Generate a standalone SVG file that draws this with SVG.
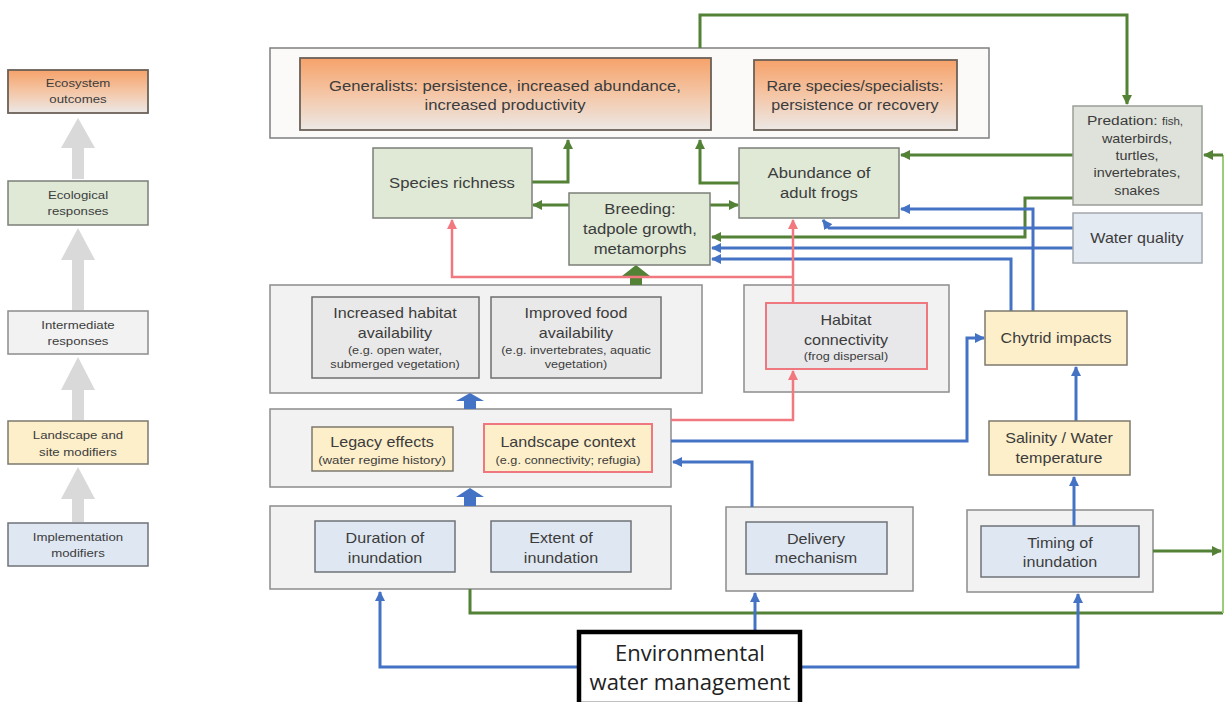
<svg xmlns="http://www.w3.org/2000/svg" width="1225" height="702" viewBox="0 0 1225 702">
  <defs>
    <linearGradient id="orangeFade" x1="0" y1="0" x2="0" y2="1">
      <stop offset="0" stop-color="#f6a26a"/>
      <stop offset="0.5" stop-color="#f4c6a6"/>
      <stop offset="1" stop-color="#ece8e6"/>
    </linearGradient>
    <marker id="arrGreen" viewBox="0 0 10 10" refX="9" refY="5" markerWidth="10" markerHeight="10" markerUnits="userSpaceOnUse" orient="auto">
      <path d="M0,0 L10,5 L0,10 z" fill="#538135"/>
    </marker>
    <marker id="arrBlue" viewBox="0 0 10 10" refX="9" refY="5" markerWidth="10" markerHeight="10" markerUnits="userSpaceOnUse" orient="auto">
      <path d="M0,0 L10,5 L0,10 z" fill="#4472c4"/>
    </marker>
    <marker id="arrPink" viewBox="0 0 10 10" refX="9" refY="5" markerWidth="10" markerHeight="10" markerUnits="userSpaceOnUse" orient="auto">
      <path d="M0,0 L10,5 L0,10 z" fill="#f2787f"/>
    </marker>
    <style>
      text { font-family: "Liberation Sans", Arial, sans-serif; fill: #3c3c3c; text-anchor: middle;
             transform-box: fill-box; transform-origin: center; transform: scaleX(1.15); }
      .leg { font-size: 11.5px; }
      .big { font-size: 14.5px; }
      .mid { font-size: 14px; }
      .pr { font-size: 12.5px; }
      .tiny { font-size: 11px; }
      .env { font-family: "Open Sans", "Liberation Sans", sans-serif; font-size: 22px; fill: #222; transform: none; }
      .cont { fill: #f2f2f2; stroke: #8c8c8c; stroke-width: 1.5; }
      .top { fill: #fbfaf9; stroke: #7f7f7f; stroke-width: 1.5; }
      .orange { fill: url(#orangeFade); stroke: #6b6158; stroke-width: 1.8; }
      .green { fill: #dfe9d6; stroke: #7b7f78; stroke-width: 1.5; }
      .grey { fill: #e9e9e9; stroke: #6f6f6f; stroke-width: 1.5; }
      .yellow { fill: #fcefca; stroke: #7d7a6e; stroke-width: 1.5; }
      .blue { fill: #dfe7f2; stroke: #6f7378; stroke-width: 1.5; }
      .pred { fill: #dfe2da; stroke: #9a9e98; stroke-width: 1.5; }
      .wq { fill: #e4eaf2; stroke: #a3a7ad; stroke-width: 1.5; }
      .pinkbox { fill: #e8e8ea; stroke: #ef7880; stroke-width: 2; }
      .pinkyel { fill: #fcefca; stroke: #ef7880; stroke-width: 2; }
      .legarrow { fill: #d9d9d9; }
      .cg { fill: none; stroke: #538135; stroke-width: 3; marker-end: url(#arrGreen); }
      .cgn { fill: none; stroke: #538135; stroke-width: 3; }
      .cb { fill: none; stroke: #4472c4; stroke-width: 3; marker-end: url(#arrBlue); }
      .cp { fill: none; stroke: #f2787f; stroke-width: 2.5; marker-end: url(#arrPink); }
    </style>
  </defs>

  <rect width="1225" height="702" fill="#ffffff"/>

  <!-- legend column -->
  <g id="legend">
    <polygon class="legarrow" points="78,118 95,148 84,148 84,179 72,179 72,148 61,148"/>
    <polygon class="legarrow" points="78,228 95,260 84,260 84,310 72,310 72,260 61,260"/>
    <polygon class="legarrow" points="78,357 95,390 84,390 84,420 72,420 72,390 61,390"/>
    <polygon class="legarrow" points="78,467 95,499 84,499 84,522 72,522 72,499 61,499"/>
    <g id="leg-ecosystem">
      <rect class="orange" x="8" y="70" width="140" height="43"/>
      <text class="leg" x="78" y="87" fill="#5b3b28">Ecosystem</text>
      <text class="leg" x="78" y="103">outcomes</text>
    </g>
    <g id="leg-ecological">
      <rect class="green" x="8" y="181" width="140" height="44"/>
      <text class="leg" x="78" y="199">Ecological</text>
      <text class="leg" x="78" y="215">responses</text>
    </g>
    <g id="leg-intermediate">
      <rect class="cont" x="8" y="311" width="140" height="43"/>
      <text class="leg" x="78" y="329">Intermediate</text>
      <text class="leg" x="78" y="345">responses</text>
    </g>
    <g id="leg-landscape">
      <rect class="yellow" x="8" y="421" width="140" height="43"/>
      <text class="leg" x="78" y="439">Landscape and</text>
      <text class="leg" x="78" y="456">site modifiers</text>
    </g>
    <g id="leg-implementation">
      <rect class="blue" x="8" y="523" width="140" height="43"/>
      <text class="leg" x="78" y="541">Implementation</text>
      <text class="leg" x="78" y="557">modifiers</text>
    </g>
  </g>

  <!-- group containers -->
  <g id="outcomes-container"><rect class="top" x="270" y="48" width="719" height="90"/></g>
  <g id="intermediate-container"><rect class="cont" x="270" y="285" width="432" height="108"/></g>
  <g id="connectivity-container"><rect class="cont" x="744" y="285" width="205" height="107"/></g>
  <g id="landscape-container"><rect class="cont" x="270" y="409" width="401" height="78"/></g>
  <g id="implementation-container"><rect class="cont" x="270" y="506" width="401" height="83"/></g>
  <g id="delivery-container"><rect class="cont" x="726" y="507" width="187" height="84"/></g>
  <g id="timing-container"><rect class="cont" x="967" y="510" width="186" height="82"/></g>

  <!-- connectors -->
  <g id="connectors">
    <!-- green -->
    <path class="cg" d="M531,182 H568 V140"/>
    <path class="cg" d="M740,183 H700 V140"/>
    <path class="cg" d="M569,205 H533"/>
    <path class="cg" d="M710,205 H738"/>
    <path class="cg" d="M700,48 V15 H1127 V104"/>
    <path class="cg" d="M1073,155 H901"/>
    <path class="cg" d="M1073,198 H1025 V237 H712"/>
    <path class="cg" d="M1153,551 H1221"/>
    <path class="cgn" d="M470,589 V613 H1223"/>
    <path fill="none" stroke="#9ccc78" stroke-width="2" d="M1223,613 V155"/>
    <path class="cg" d="M1223,155 H1204"/>
    <polygon fill="#538135" points="636,265 650,276 642,276 642,285 630,285 630,276 622,276"/>
    <!-- blue -->
    <polygon fill="#4472c4" points="470,393 484,401 476,401 476,409 464,409 464,401 456,401"/>
    <polygon fill="#4472c4" points="470,488 484,497 476,497 476,506 464,506 464,497 456,497"/>
    <path class="cb" d="M577,667 H380 V592"/>
    <path class="cb" d="M755,630 V593"/>
    <path class="cb" d="M802,667 H1078 V594"/>
    <path class="cb" d="M752,507 V462 H673"/>
    <path class="cb" d="M671,441 H967 V338 H984"/>
    <path class="cb" d="M1074,526 V477"/>
    <path class="cb" d="M1076,421 V367"/>
    <path class="cb" d="M1033,311 V209 H901"/>
    <path class="cb" d="M1011,311 V259 H712"/>
    <path class="cb" d="M1073,228 H829 L823,220"/>
    <path class="cb" d="M1073,248 H712"/>
    <!-- pink -->
    <path class="cp" d="M671,420 H793 V371"/>
    <path class="cp" d="M793,303 V220"/>
    <path class="cp" d="M793,277 H452 V220"/>
  </g>

  <!-- nodes -->
  <g id="generalists">
    <rect class="orange" x="300" y="58" width="411" height="72"/>
    <text class="big" x="505" y="91">Generalists:  persistence, increased abundance,</text>
    <text class="big" x="505" y="110">increased productivity</text>
  </g>
  <g id="rare-species">
    <rect class="orange" x="754" y="60" width="203" height="70"/>
    <text class="mid" x="855" y="91">Rare species/specialists:</text>
    <text class="mid" x="855" y="110">persistence or recovery</text>
  </g>
  <g id="species-richness">
    <rect class="green" x="373" y="148" width="159" height="70"/>
    <text class="big" x="452" y="188">Species richness</text>
  </g>
  <g id="abundance">
    <rect class="green" x="739" y="148" width="160" height="70"/>
    <text class="big" x="819" y="178">Abundance of</text>
    <text class="big" x="819" y="198">adult frogs</text>
  </g>
  <g id="breeding">
    <rect class="green" x="569" y="193" width="141" height="72"/>
    <text class="big" x="640" y="214">Breeding:</text>
    <text class="big" x="640" y="234">tadpole growth,</text>
    <text class="big" x="640" y="254">metamorphs</text>
  </g>
  <g id="predation">
    <rect class="pred" x="1073" y="106" width="129" height="99"/>
    <text class="mid" x="1135" y="125" style="font-size:13.5px">Predation: <tspan style="font-size:10px">fish,</tspan></text>
    <text class="pr" x="1137" y="143">waterbirds,</text>
    <text class="pr" x="1137" y="160">turtles,</text>
    <text class="pr" x="1137" y="177">invertebrates,</text>
    <text class="pr" x="1137" y="195">snakes</text>
  </g>
  <g id="water-quality">
    <rect class="wq" x="1073" y="213" width="129" height="50"/>
    <text class="mid" x="1137" y="243">Water quality</text>
  </g>
  <g id="habitat-availability">
    <rect class="grey" x="312" y="297" width="167" height="81"/>
    <text class="mid" x="395" y="318">Increased habitat</text>
    <text class="mid" x="395" y="338">availability</text>
    <text class="tiny" x="395" y="354">(e.g. open water,</text>
    <text class="tiny" x="395" y="368">submerged vegetation)</text>
  </g>
  <g id="food-availability">
    <rect class="grey" x="491" y="297" width="170" height="81"/>
    <text class="mid" x="576" y="318">Improved food</text>
    <text class="mid" x="576" y="338">availability</text>
    <text class="tiny" x="576" y="354">(e.g. invertebrates, aquatic</text>
    <text class="tiny" x="576" y="368">vegetation)</text>
  </g>
  <g id="habitat-connectivity">
    <rect class="pinkbox" x="766" y="303" width="161" height="66"/>
    <text class="mid" x="846" y="325">Habitat</text>
    <text class="mid" x="846" y="345">connectivity</text>
    <text class="tiny" x="846" y="360">(frog dispersal)</text>
  </g>
  <g id="chytrid">
    <rect class="yellow" x="985" y="311" width="142" height="54"/>
    <text class="mid" x="1056" y="343">Chytrid impacts</text>
  </g>
  <g id="salinity">
    <rect class="yellow" x="989" y="421" width="141" height="54"/>
    <text class="mid" x="1059" y="443">Salinity / Water</text>
    <text class="mid" x="1059" y="463">temperature</text>
  </g>
  <g id="legacy-effects">
    <rect class="yellow" x="312" y="427" width="141" height="44"/>
    <text class="mid" x="382" y="447">Legacy effects</text>
    <text class="tiny" x="382" y="464" style="font-size:11.5px">(water regime history)</text>
  </g>
  <g id="landscape-context">
    <rect class="pinkyel" x="484" y="424" width="168" height="48"/>
    <text class="mid" x="568" y="447">Landscape context</text>
    <text class="tiny" x="568" y="464">(e.g. connectivity; refugia)</text>
  </g>
  <g id="duration">
    <rect class="blue" x="315" y="521" width="140" height="51"/>
    <text class="mid" x="385" y="543">Duration of</text>
    <text class="mid" x="385" y="563">inundation</text>
  </g>
  <g id="extent">
    <rect class="blue" x="491" y="521" width="140" height="51"/>
    <text class="mid" x="561" y="543">Extent of</text>
    <text class="mid" x="561" y="563">inundation</text>
  </g>
  <g id="delivery">
    <rect class="blue" x="746" y="522" width="141" height="52"/>
    <text class="mid" x="816" y="544">Delivery</text>
    <text class="mid" x="816" y="563">mechanism</text>
  </g>
  <g id="timing">
    <rect class="blue" x="981" y="526" width="158" height="51"/>
    <text class="mid" x="1060" y="548">Timing of</text>
    <text class="mid" x="1060" y="567">inundation</text>
  </g>
  <g id="env-water-management">
    <rect x="579" y="632" width="221" height="72" fill="#ffffff" stroke="#000000" stroke-width="4.5"/>
    <text class="env" x="690" y="661">Environmental</text>
    <text class="env" x="690" y="690">water management</text>
  </g>
</svg>
